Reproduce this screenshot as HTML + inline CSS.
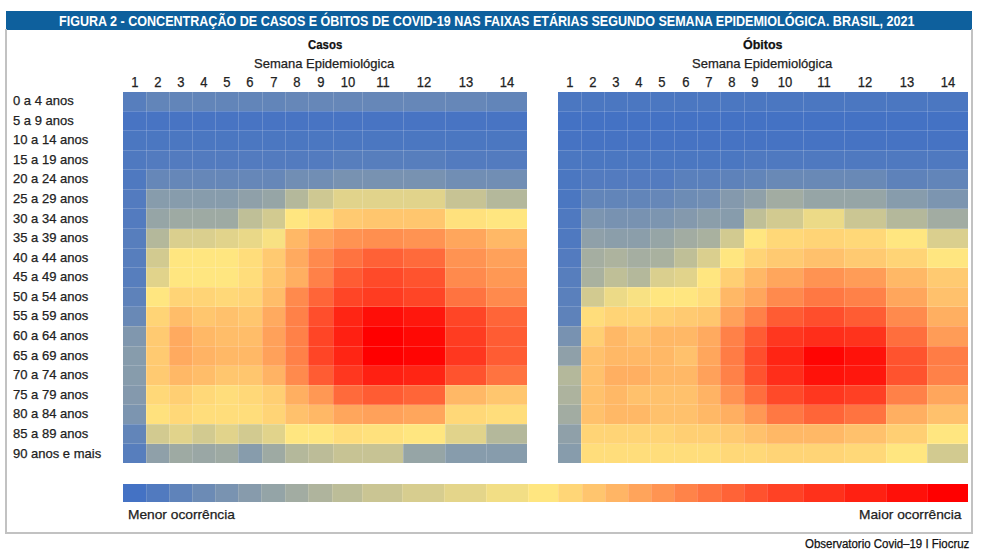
<!DOCTYPE html>
<html><head><meta charset="utf-8"><style>
html,body{margin:0;padding:0;background:#fff;}
body{width:984px;height:558px;position:relative;overflow:hidden;font-family:"Liberation Sans",sans-serif;}
#bar{position:absolute;left:6px;top:11px;width:966px;height:18.5px;background:#0e609d;}
#title{position:absolute;left:59px;top:12px;transform:scaleX(0.896);height:18px;line-height:18px;color:#fff;font-weight:bold;font-size:14px;white-space:nowrap;transform-origin:0 50%;}
#frame{position:absolute;left:5px;top:29px;width:964px;height:503px;border:2px solid #c2c2c2;border-top:none;}
.c{position:absolute;}
.num,.rl,.psub,.lt,#foot,.ptitle{-webkit-text-stroke:0.25px currentColor;}
.gv{position:absolute;width:1px;background:rgba(255,255,255,0.18);}
.gh{position:absolute;height:1px;background:rgba(255,255,255,0.18);}
.num{position:absolute;top:74.3px;width:40px;text-align:center;font-size:14px;color:#222;transform:scaleX(0.93);}
.rl{position:absolute;left:13px;height:19.58px;line-height:19.58px;font-size:13px;color:#222;white-space:nowrap;}
.ptitle{position:absolute;font-weight:bold;font-size:13px;color:#111;white-space:nowrap;}
.psub{position:absolute;font-size:13px;color:#222;white-space:nowrap;}
.lc{position:absolute;top:484px;height:18px;}
.lg{position:absolute;top:484px;height:18px;width:1px;background:rgba(255,255,255,0.15);}
.lt{position:absolute;top:507.3px;font-size:13px;transform:scaleX(1.057);transform-origin:0 0;color:#222;white-space:nowrap;}
#foot{position:absolute;top:536.6px;left:805px;font-size:12px;color:#111;transform:scaleX(0.955);transform-origin:0 0;white-space:nowrap;}
</style></head><body>
<div id="bar"></div>
<div id="title">FIGURA 2 - CONCENTRAÇÃO DE CASOS E ÓBITOS DE COVID-19 NAS FAIXAS ETÁRIAS SEGUNDO SEMANA EPIDEMIOLÓGICA. BRASIL, 2021</div>
<div id="frame"></div>
<div class="ptitle" style="left:308px;top:36.5px;transform:scaleX(0.877);transform-origin:0 0">Casos</div>
<div class="psub" style="left:254px;top:56px">Semana Epidemiológica</div>
<div class="ptitle" style="left:743px;top:36.5px;transform:scaleX(0.96);transform-origin:0 0">Óbitos</div>
<div class="psub" style="left:692px;top:56px">Semana Epidemiológica</div>
<div class="rl" style="top:91.10px">0 a 4 anos</div>
<div class="rl" style="top:110.68px">5 a 9 anos</div>
<div class="rl" style="top:130.26px">10 a 14 anos</div>
<div class="rl" style="top:149.84px">15 a 19 anos</div>
<div class="rl" style="top:169.42px">20 a 24 anos</div>
<div class="rl" style="top:188.99px">25 a 29 anos</div>
<div class="rl" style="top:208.57px">30 a 34 anos</div>
<div class="rl" style="top:228.15px">35 a 39 anos</div>
<div class="rl" style="top:247.73px">40 a 44 anos</div>
<div class="rl" style="top:267.31px">45 a 49 anos</div>
<div class="rl" style="top:286.89px">50 a 54 anos</div>
<div class="rl" style="top:306.47px">55 a 59 anos</div>
<div class="rl" style="top:326.05px">60 a 64 anos</div>
<div class="rl" style="top:345.63px">65 a 69 anos</div>
<div class="rl" style="top:365.21px">70 a 74 anos</div>
<div class="rl" style="top:384.78px">75 a 79 anos</div>
<div class="rl" style="top:404.36px">80 a 84 anos</div>
<div class="rl" style="top:423.94px">85 a 89 anos</div>
<div class="rl" style="top:443.52px">90 anos e mais</div>
<div class="c" style="left:123px;top:91.50px;width:23px;height:19.58px;background:#577ebd"></div>
<div class="c" style="left:146px;top:91.50px;width:23px;height:19.58px;background:#6285b9"></div>
<div class="c" style="left:169px;top:91.50px;width:23px;height:19.58px;background:#6285b9"></div>
<div class="c" style="left:192px;top:91.50px;width:23px;height:19.58px;background:#6285b9"></div>
<div class="c" style="left:215px;top:91.50px;width:23px;height:19.58px;background:#6285b9"></div>
<div class="c" style="left:238px;top:91.50px;width:24px;height:19.58px;background:#6285b9"></div>
<div class="c" style="left:262px;top:91.50px;width:23px;height:19.58px;background:#6285b9"></div>
<div class="c" style="left:285px;top:91.50px;width:23px;height:19.58px;background:#6687b8"></div>
<div class="c" style="left:308px;top:91.50px;width:25px;height:19.58px;background:#6687b8"></div>
<div class="c" style="left:333px;top:91.50px;width:29px;height:19.58px;background:#6687b8"></div>
<div class="c" style="left:362px;top:91.50px;width:41px;height:19.58px;background:#6687b8"></div>
<div class="c" style="left:403px;top:91.50px;width:42px;height:19.58px;background:#6687b8"></div>
<div class="c" style="left:445px;top:91.50px;width:41px;height:19.58px;background:#6687b8"></div>
<div class="c" style="left:486px;top:91.50px;width:41px;height:19.58px;background:#6285b9"></div>
<div class="c" style="left:123px;top:111.08px;width:23px;height:19.58px;background:#4874c3"></div>
<div class="c" style="left:146px;top:111.08px;width:23px;height:19.58px;background:#4874c3"></div>
<div class="c" style="left:169px;top:111.08px;width:23px;height:19.58px;background:#4874c3"></div>
<div class="c" style="left:192px;top:111.08px;width:23px;height:19.58px;background:#4874c3"></div>
<div class="c" style="left:215px;top:111.08px;width:23px;height:19.58px;background:#4874c3"></div>
<div class="c" style="left:238px;top:111.08px;width:24px;height:19.58px;background:#4874c3"></div>
<div class="c" style="left:262px;top:111.08px;width:23px;height:19.58px;background:#4874c3"></div>
<div class="c" style="left:285px;top:111.08px;width:23px;height:19.58px;background:#4874c3"></div>
<div class="c" style="left:308px;top:111.08px;width:25px;height:19.58px;background:#4874c3"></div>
<div class="c" style="left:333px;top:111.08px;width:29px;height:19.58px;background:#4874c3"></div>
<div class="c" style="left:362px;top:111.08px;width:41px;height:19.58px;background:#4874c3"></div>
<div class="c" style="left:403px;top:111.08px;width:42px;height:19.58px;background:#4874c3"></div>
<div class="c" style="left:445px;top:111.08px;width:41px;height:19.58px;background:#4874c3"></div>
<div class="c" style="left:486px;top:111.08px;width:41px;height:19.58px;background:#4874c3"></div>
<div class="c" style="left:123px;top:130.66px;width:23px;height:19.58px;background:#4b77c1"></div>
<div class="c" style="left:146px;top:130.66px;width:23px;height:19.58px;background:#4b77c1"></div>
<div class="c" style="left:169px;top:130.66px;width:23px;height:19.58px;background:#4b77c1"></div>
<div class="c" style="left:192px;top:130.66px;width:23px;height:19.58px;background:#4b77c1"></div>
<div class="c" style="left:215px;top:130.66px;width:23px;height:19.58px;background:#4b77c1"></div>
<div class="c" style="left:238px;top:130.66px;width:24px;height:19.58px;background:#4b77c1"></div>
<div class="c" style="left:262px;top:130.66px;width:23px;height:19.58px;background:#4b77c1"></div>
<div class="c" style="left:285px;top:130.66px;width:23px;height:19.58px;background:#4b77c1"></div>
<div class="c" style="left:308px;top:130.66px;width:25px;height:19.58px;background:#4b77c1"></div>
<div class="c" style="left:333px;top:130.66px;width:29px;height:19.58px;background:#4b77c1"></div>
<div class="c" style="left:362px;top:130.66px;width:41px;height:19.58px;background:#4b77c1"></div>
<div class="c" style="left:403px;top:130.66px;width:42px;height:19.58px;background:#4b77c1"></div>
<div class="c" style="left:445px;top:130.66px;width:41px;height:19.58px;background:#4b77c1"></div>
<div class="c" style="left:486px;top:130.66px;width:41px;height:19.58px;background:#4b77c1"></div>
<div class="c" style="left:123px;top:150.24px;width:23px;height:19.58px;background:#4f79c0"></div>
<div class="c" style="left:146px;top:150.24px;width:23px;height:19.58px;background:#537bbf"></div>
<div class="c" style="left:169px;top:150.24px;width:23px;height:19.58px;background:#537bbf"></div>
<div class="c" style="left:192px;top:150.24px;width:23px;height:19.58px;background:#537bbf"></div>
<div class="c" style="left:215px;top:150.24px;width:23px;height:19.58px;background:#537bbf"></div>
<div class="c" style="left:238px;top:150.24px;width:24px;height:19.58px;background:#537bbf"></div>
<div class="c" style="left:262px;top:150.24px;width:23px;height:19.58px;background:#537bbf"></div>
<div class="c" style="left:285px;top:150.24px;width:23px;height:19.58px;background:#537bbf"></div>
<div class="c" style="left:308px;top:150.24px;width:25px;height:19.58px;background:#537bbf"></div>
<div class="c" style="left:333px;top:150.24px;width:29px;height:19.58px;background:#577ebd"></div>
<div class="c" style="left:362px;top:150.24px;width:41px;height:19.58px;background:#577ebd"></div>
<div class="c" style="left:403px;top:150.24px;width:42px;height:19.58px;background:#577ebd"></div>
<div class="c" style="left:445px;top:150.24px;width:41px;height:19.58px;background:#537bbf"></div>
<div class="c" style="left:486px;top:150.24px;width:41px;height:19.58px;background:#537bbf"></div>
<div class="c" style="left:123px;top:169.82px;width:23px;height:19.58px;background:#4f79c0"></div>
<div class="c" style="left:146px;top:169.82px;width:23px;height:19.58px;background:#6687b8"></div>
<div class="c" style="left:169px;top:169.82px;width:23px;height:19.58px;background:#6687b8"></div>
<div class="c" style="left:192px;top:169.82px;width:23px;height:19.58px;background:#6687b8"></div>
<div class="c" style="left:215px;top:169.82px;width:23px;height:19.58px;background:#6687b8"></div>
<div class="c" style="left:238px;top:169.82px;width:24px;height:19.58px;background:#6687b8"></div>
<div class="c" style="left:262px;top:169.82px;width:23px;height:19.58px;background:#6687b8"></div>
<div class="c" style="left:285px;top:169.82px;width:23px;height:19.58px;background:#718eb4"></div>
<div class="c" style="left:308px;top:169.82px;width:25px;height:19.58px;background:#718eb4"></div>
<div class="c" style="left:333px;top:169.82px;width:29px;height:19.58px;background:#7892b1"></div>
<div class="c" style="left:362px;top:169.82px;width:41px;height:19.58px;background:#7892b1"></div>
<div class="c" style="left:403px;top:169.82px;width:42px;height:19.58px;background:#7892b1"></div>
<div class="c" style="left:445px;top:169.82px;width:41px;height:19.58px;background:#718eb4"></div>
<div class="c" style="left:486px;top:169.82px;width:41px;height:19.58px;background:#718eb4"></div>
<div class="c" style="left:123px;top:189.39px;width:23px;height:19.58px;background:#537bbf"></div>
<div class="c" style="left:146px;top:189.39px;width:23px;height:19.58px;background:#879cac"></div>
<div class="c" style="left:169px;top:189.39px;width:23px;height:19.58px;background:#879cac"></div>
<div class="c" style="left:192px;top:189.39px;width:23px;height:19.58px;background:#879cac"></div>
<div class="c" style="left:215px;top:189.39px;width:23px;height:19.58px;background:#879cac"></div>
<div class="c" style="left:238px;top:189.39px;width:24px;height:19.58px;background:#8fa0a9"></div>
<div class="c" style="left:262px;top:189.39px;width:23px;height:19.58px;background:#96a5a6"></div>
<div class="c" style="left:285px;top:189.39px;width:23px;height:19.58px;background:#b4b89b"></div>
<div class="c" style="left:308px;top:189.39px;width:25px;height:19.58px;background:#cec892"></div>
<div class="c" style="left:333px;top:189.39px;width:29px;height:19.58px;background:#e1d38b"></div>
<div class="c" style="left:362px;top:189.39px;width:41px;height:19.58px;background:#e1d38b"></div>
<div class="c" style="left:403px;top:189.39px;width:42px;height:19.58px;background:#e1d38b"></div>
<div class="c" style="left:445px;top:189.39px;width:41px;height:19.58px;background:#c7c394"></div>
<div class="c" style="left:486px;top:189.39px;width:41px;height:19.58px;background:#b4b89b"></div>
<div class="c" style="left:123px;top:208.97px;width:23px;height:19.58px;background:#537bbf"></div>
<div class="c" style="left:146px;top:208.97px;width:23px;height:19.58px;background:#96a5a6"></div>
<div class="c" style="left:169px;top:208.97px;width:23px;height:19.58px;background:#9eaaa3"></div>
<div class="c" style="left:192px;top:208.97px;width:23px;height:19.58px;background:#9eaaa3"></div>
<div class="c" style="left:215px;top:208.97px;width:23px;height:19.58px;background:#9eaaa3"></div>
<div class="c" style="left:238px;top:208.97px;width:24px;height:19.58px;background:#bfbf97"></div>
<div class="c" style="left:262px;top:208.97px;width:23px;height:19.58px;background:#d2ca90"></div>
<div class="c" style="left:285px;top:208.97px;width:23px;height:19.58px;background:#ffe680"></div>
<div class="c" style="left:308px;top:208.97px;width:25px;height:19.58px;background:#ffdd7b"></div>
<div class="c" style="left:333px;top:208.97px;width:29px;height:19.58px;background:#ffca71"></div>
<div class="c" style="left:362px;top:208.97px;width:41px;height:19.58px;background:#ffc66e"></div>
<div class="c" style="left:403px;top:208.97px;width:42px;height:19.58px;background:#ffc66e"></div>
<div class="c" style="left:445px;top:208.97px;width:41px;height:19.58px;background:#ffe17d"></div>
<div class="c" style="left:486px;top:208.97px;width:41px;height:19.58px;background:#ffe680"></div>
<div class="c" style="left:123px;top:228.55px;width:23px;height:19.58px;background:#577ebd"></div>
<div class="c" style="left:146px;top:228.55px;width:23px;height:19.58px;background:#b4b89b"></div>
<div class="c" style="left:169px;top:228.55px;width:23px;height:19.58px;background:#dacf8e"></div>
<div class="c" style="left:192px;top:228.55px;width:23px;height:19.58px;background:#dacf8e"></div>
<div class="c" style="left:215px;top:228.55px;width:23px;height:19.58px;background:#e1d38b"></div>
<div class="c" style="left:238px;top:228.55px;width:24px;height:19.58px;background:#e9d888"></div>
<div class="c" style="left:262px;top:228.55px;width:23px;height:19.58px;background:#f8e183"></div>
<div class="c" style="left:285px;top:228.55px;width:23px;height:19.58px;background:#ffb866"></div>
<div class="c" style="left:308px;top:228.55px;width:25px;height:19.58px;background:#ffa15a"></div>
<div class="c" style="left:333px;top:228.55px;width:29px;height:19.58px;background:#ff9352"></div>
<div class="c" style="left:362px;top:228.55px;width:41px;height:19.58px;background:#ff8f4f"></div>
<div class="c" style="left:403px;top:228.55px;width:42px;height:19.58px;background:#ff9352"></div>
<div class="c" style="left:445px;top:228.55px;width:41px;height:19.58px;background:#ffa65c"></div>
<div class="c" style="left:486px;top:228.55px;width:41px;height:19.58px;background:#ffb866"></div>
<div class="c" style="left:123px;top:248.13px;width:23px;height:19.58px;background:#577ebd"></div>
<div class="c" style="left:146px;top:248.13px;width:23px;height:19.58px;background:#d2ca90"></div>
<div class="c" style="left:169px;top:248.13px;width:23px;height:19.58px;background:#ffe680"></div>
<div class="c" style="left:192px;top:248.13px;width:23px;height:19.58px;background:#ffe680"></div>
<div class="c" style="left:215px;top:248.13px;width:23px;height:19.58px;background:#ffe680"></div>
<div class="c" style="left:238px;top:248.13px;width:24px;height:19.58px;background:#ffdd7b"></div>
<div class="c" style="left:262px;top:248.13px;width:23px;height:19.58px;background:#ffca71"></div>
<div class="c" style="left:285px;top:248.13px;width:23px;height:19.58px;background:#ffaa5f"></div>
<div class="c" style="left:308px;top:248.13px;width:25px;height:19.58px;background:#ff8a4d"></div>
<div class="c" style="left:333px;top:248.13px;width:29px;height:19.58px;background:#ff7340"></div>
<div class="c" style="left:362px;top:248.13px;width:41px;height:19.58px;background:#ff6136"></div>
<div class="c" style="left:403px;top:248.13px;width:42px;height:19.58px;background:#ff6a3b"></div>
<div class="c" style="left:445px;top:248.13px;width:41px;height:19.58px;background:#ff9352"></div>
<div class="c" style="left:486px;top:248.13px;width:41px;height:19.58px;background:#ffa15a"></div>
<div class="c" style="left:123px;top:267.71px;width:23px;height:19.58px;background:#577ebd"></div>
<div class="c" style="left:146px;top:267.71px;width:23px;height:19.58px;background:#e1d38b"></div>
<div class="c" style="left:169px;top:267.71px;width:23px;height:19.58px;background:#ffe680"></div>
<div class="c" style="left:192px;top:267.71px;width:23px;height:19.58px;background:#ffe680"></div>
<div class="c" style="left:215px;top:267.71px;width:23px;height:19.58px;background:#ffe680"></div>
<div class="c" style="left:238px;top:267.71px;width:24px;height:19.58px;background:#ffdd7b"></div>
<div class="c" style="left:262px;top:267.71px;width:23px;height:19.58px;background:#ffc66e"></div>
<div class="c" style="left:285px;top:267.71px;width:23px;height:19.58px;background:#ffaf61"></div>
<div class="c" style="left:308px;top:267.71px;width:25px;height:19.58px;background:#ff8148"></div>
<div class="c" style="left:333px;top:267.71px;width:29px;height:19.58px;background:#ff5c33"></div>
<div class="c" style="left:362px;top:267.71px;width:41px;height:19.58px;background:#ff4a29"></div>
<div class="c" style="left:403px;top:267.71px;width:42px;height:19.58px;background:#ff532e"></div>
<div class="c" style="left:445px;top:267.71px;width:41px;height:19.58px;background:#ff8a4d"></div>
<div class="c" style="left:486px;top:267.71px;width:41px;height:19.58px;background:#ff9854"></div>
<div class="c" style="left:123px;top:287.29px;width:23px;height:19.58px;background:#5e82ba"></div>
<div class="c" style="left:146px;top:287.29px;width:23px;height:19.58px;background:#ffe680"></div>
<div class="c" style="left:169px;top:287.29px;width:23px;height:19.58px;background:#ffd476"></div>
<div class="c" style="left:192px;top:287.29px;width:23px;height:19.58px;background:#ffd476"></div>
<div class="c" style="left:215px;top:287.29px;width:23px;height:19.58px;background:#ffd878"></div>
<div class="c" style="left:238px;top:287.29px;width:24px;height:19.58px;background:#ffd476"></div>
<div class="c" style="left:262px;top:287.29px;width:23px;height:19.58px;background:#ffbd69"></div>
<div class="c" style="left:285px;top:287.29px;width:23px;height:19.58px;background:#ff8a4d"></div>
<div class="c" style="left:308px;top:287.29px;width:25px;height:19.58px;background:#ff6538"></div>
<div class="c" style="left:333px;top:287.29px;width:29px;height:19.58px;background:#ff4526"></div>
<div class="c" style="left:362px;top:287.29px;width:41px;height:19.58px;background:#ff3c21"></div>
<div class="c" style="left:403px;top:287.29px;width:42px;height:19.58px;background:#ff4526"></div>
<div class="c" style="left:445px;top:287.29px;width:41px;height:19.58px;background:#ff7340"></div>
<div class="c" style="left:486px;top:287.29px;width:41px;height:19.58px;background:#ff8a4d"></div>
<div class="c" style="left:123px;top:306.87px;width:23px;height:19.58px;background:#6989b6"></div>
<div class="c" style="left:146px;top:306.87px;width:23px;height:19.58px;background:#ffd476"></div>
<div class="c" style="left:169px;top:306.87px;width:23px;height:19.58px;background:#ffbd69"></div>
<div class="c" style="left:192px;top:306.87px;width:23px;height:19.58px;background:#ffc66e"></div>
<div class="c" style="left:215px;top:306.87px;width:23px;height:19.58px;background:#ffc16c"></div>
<div class="c" style="left:238px;top:306.87px;width:24px;height:19.58px;background:#ffc66e"></div>
<div class="c" style="left:262px;top:306.87px;width:23px;height:19.58px;background:#ffaa5f"></div>
<div class="c" style="left:285px;top:306.87px;width:23px;height:19.58px;background:#ff8148"></div>
<div class="c" style="left:308px;top:306.87px;width:25px;height:19.58px;background:#ff4e2c"></div>
<div class="c" style="left:333px;top:306.87px;width:29px;height:19.58px;background:#ff2514"></div>
<div class="c" style="left:362px;top:306.87px;width:41px;height:19.58px;background:#ff0e08"></div>
<div class="c" style="left:403px;top:306.87px;width:42px;height:19.58px;background:#ff170d"></div>
<div class="c" style="left:445px;top:306.87px;width:41px;height:19.58px;background:#ff4526"></div>
<div class="c" style="left:486px;top:306.87px;width:41px;height:19.58px;background:#ff6538"></div>
<div class="c" style="left:123px;top:326.45px;width:23px;height:19.58px;background:#8097ae"></div>
<div class="c" style="left:146px;top:326.45px;width:23px;height:19.58px;background:#ffca71"></div>
<div class="c" style="left:169px;top:326.45px;width:23px;height:19.58px;background:#ffaa5f"></div>
<div class="c" style="left:192px;top:326.45px;width:23px;height:19.58px;background:#ffb866"></div>
<div class="c" style="left:215px;top:326.45px;width:23px;height:19.58px;background:#ffbd69"></div>
<div class="c" style="left:238px;top:326.45px;width:24px;height:19.58px;background:#ffbd69"></div>
<div class="c" style="left:262px;top:326.45px;width:23px;height:19.58px;background:#ffa15a"></div>
<div class="c" style="left:285px;top:326.45px;width:23px;height:19.58px;background:#ff8148"></div>
<div class="c" style="left:308px;top:326.45px;width:25px;height:19.58px;background:#ff4526"></div>
<div class="c" style="left:333px;top:326.45px;width:29px;height:19.58px;background:#ff2012"></div>
<div class="c" style="left:362px;top:326.45px;width:41px;height:19.58px;background:#ff0000"></div>
<div class="c" style="left:403px;top:326.45px;width:42px;height:19.58px;background:#ff0905"></div>
<div class="c" style="left:445px;top:326.45px;width:41px;height:19.58px;background:#ff3c21"></div>
<div class="c" style="left:486px;top:326.45px;width:41px;height:19.58px;background:#ff5c33"></div>
<div class="c" style="left:123px;top:346.03px;width:23px;height:19.58px;background:#879cac"></div>
<div class="c" style="left:146px;top:346.03px;width:23px;height:19.58px;background:#ffca71"></div>
<div class="c" style="left:169px;top:346.03px;width:23px;height:19.58px;background:#ffaa5f"></div>
<div class="c" style="left:192px;top:346.03px;width:23px;height:19.58px;background:#ffb364"></div>
<div class="c" style="left:215px;top:346.03px;width:23px;height:19.58px;background:#ffb866"></div>
<div class="c" style="left:238px;top:346.03px;width:24px;height:19.58px;background:#ffb866"></div>
<div class="c" style="left:262px;top:346.03px;width:23px;height:19.58px;background:#ffa15a"></div>
<div class="c" style="left:285px;top:346.03px;width:23px;height:19.58px;background:#ff8148"></div>
<div class="c" style="left:308px;top:346.03px;width:25px;height:19.58px;background:#ff4526"></div>
<div class="c" style="left:333px;top:346.03px;width:29px;height:19.58px;background:#ff2514"></div>
<div class="c" style="left:362px;top:346.03px;width:41px;height:19.58px;background:#ff0000"></div>
<div class="c" style="left:403px;top:346.03px;width:42px;height:19.58px;background:#ff0503"></div>
<div class="c" style="left:445px;top:346.03px;width:41px;height:19.58px;background:#ff371f"></div>
<div class="c" style="left:486px;top:346.03px;width:41px;height:19.58px;background:#ff5c33"></div>
<div class="c" style="left:123px;top:365.61px;width:23px;height:19.58px;background:#879cac"></div>
<div class="c" style="left:146px;top:365.61px;width:23px;height:19.58px;background:#ffca71"></div>
<div class="c" style="left:169px;top:365.61px;width:23px;height:19.58px;background:#ffb866"></div>
<div class="c" style="left:192px;top:365.61px;width:23px;height:19.58px;background:#ffbd69"></div>
<div class="c" style="left:215px;top:365.61px;width:23px;height:19.58px;background:#ffc66e"></div>
<div class="c" style="left:238px;top:365.61px;width:24px;height:19.58px;background:#ffc66e"></div>
<div class="c" style="left:262px;top:365.61px;width:23px;height:19.58px;background:#ffb364"></div>
<div class="c" style="left:285px;top:365.61px;width:23px;height:19.58px;background:#ff8a4d"></div>
<div class="c" style="left:308px;top:365.61px;width:25px;height:19.58px;background:#ff5c33"></div>
<div class="c" style="left:333px;top:365.61px;width:29px;height:19.58px;background:#ff371f"></div>
<div class="c" style="left:362px;top:365.61px;width:41px;height:19.58px;background:#ff2012"></div>
<div class="c" style="left:403px;top:365.61px;width:42px;height:19.58px;background:#ff2514"></div>
<div class="c" style="left:445px;top:365.61px;width:41px;height:19.58px;background:#ff532e"></div>
<div class="c" style="left:486px;top:365.61px;width:41px;height:19.58px;background:#ff7340"></div>
<div class="c" style="left:123px;top:385.18px;width:23px;height:19.58px;background:#8499ad"></div>
<div class="c" style="left:146px;top:385.18px;width:23px;height:19.58px;background:#ffd878"></div>
<div class="c" style="left:169px;top:385.18px;width:23px;height:19.58px;background:#ffcf73"></div>
<div class="c" style="left:192px;top:385.18px;width:23px;height:19.58px;background:#ffd878"></div>
<div class="c" style="left:215px;top:385.18px;width:23px;height:19.58px;background:#ffdd7b"></div>
<div class="c" style="left:238px;top:385.18px;width:24px;height:19.58px;background:#ffd878"></div>
<div class="c" style="left:262px;top:385.18px;width:23px;height:19.58px;background:#ffcf73"></div>
<div class="c" style="left:285px;top:385.18px;width:23px;height:19.58px;background:#ffaf61"></div>
<div class="c" style="left:308px;top:385.18px;width:25px;height:19.58px;background:#ff9854"></div>
<div class="c" style="left:333px;top:385.18px;width:29px;height:19.58px;background:#ff6a3b"></div>
<div class="c" style="left:362px;top:385.18px;width:41px;height:19.58px;background:#ff5c33"></div>
<div class="c" style="left:403px;top:385.18px;width:42px;height:19.58px;background:#ff6538"></div>
<div class="c" style="left:445px;top:385.18px;width:41px;height:19.58px;background:#ffb866"></div>
<div class="c" style="left:486px;top:385.18px;width:41px;height:19.58px;background:#ffc66e"></div>
<div class="c" style="left:123px;top:404.76px;width:23px;height:19.58px;background:#7c95b0"></div>
<div class="c" style="left:146px;top:404.76px;width:23px;height:19.58px;background:#ffe17d"></div>
<div class="c" style="left:169px;top:404.76px;width:23px;height:19.58px;background:#ffd878"></div>
<div class="c" style="left:192px;top:404.76px;width:23px;height:19.58px;background:#ffdd7b"></div>
<div class="c" style="left:215px;top:404.76px;width:23px;height:19.58px;background:#ffdd7b"></div>
<div class="c" style="left:238px;top:404.76px;width:24px;height:19.58px;background:#ffdd7b"></div>
<div class="c" style="left:262px;top:404.76px;width:23px;height:19.58px;background:#ffd476"></div>
<div class="c" style="left:285px;top:404.76px;width:23px;height:19.58px;background:#ffc16c"></div>
<div class="c" style="left:308px;top:404.76px;width:25px;height:19.58px;background:#ffb866"></div>
<div class="c" style="left:333px;top:404.76px;width:29px;height:19.58px;background:#ffa65c"></div>
<div class="c" style="left:362px;top:404.76px;width:41px;height:19.58px;background:#ffa15a"></div>
<div class="c" style="left:403px;top:404.76px;width:42px;height:19.58px;background:#ffa65c"></div>
<div class="c" style="left:445px;top:404.76px;width:41px;height:19.58px;background:#ffd878"></div>
<div class="c" style="left:486px;top:404.76px;width:41px;height:19.58px;background:#ffdd7b"></div>
<div class="c" style="left:123px;top:424.34px;width:23px;height:19.58px;background:#6285b9"></div>
<div class="c" style="left:146px;top:424.34px;width:23px;height:19.58px;background:#d2ca90"></div>
<div class="c" style="left:169px;top:424.34px;width:23px;height:19.58px;background:#e1d38b"></div>
<div class="c" style="left:192px;top:424.34px;width:23px;height:19.58px;background:#d2ca90"></div>
<div class="c" style="left:215px;top:424.34px;width:23px;height:19.58px;background:#e1d38b"></div>
<div class="c" style="left:238px;top:424.34px;width:24px;height:19.58px;background:#d2ca90"></div>
<div class="c" style="left:262px;top:424.34px;width:23px;height:19.58px;background:#e1d38b"></div>
<div class="c" style="left:285px;top:424.34px;width:23px;height:19.58px;background:#ffe680"></div>
<div class="c" style="left:308px;top:424.34px;width:25px;height:19.58px;background:#ffe680"></div>
<div class="c" style="left:333px;top:424.34px;width:29px;height:19.58px;background:#ffdd7b"></div>
<div class="c" style="left:362px;top:424.34px;width:41px;height:19.58px;background:#ffe17d"></div>
<div class="c" style="left:403px;top:424.34px;width:42px;height:19.58px;background:#ffe680"></div>
<div class="c" style="left:445px;top:424.34px;width:41px;height:19.58px;background:#e1d38b"></div>
<div class="c" style="left:486px;top:424.34px;width:41px;height:19.58px;background:#b4b89b"></div>
<div class="c" style="left:123px;top:443.92px;width:23px;height:19.58px;background:#577ebd"></div>
<div class="c" style="left:146px;top:443.92px;width:23px;height:19.58px;background:#8fa0a9"></div>
<div class="c" style="left:169px;top:443.92px;width:23px;height:19.58px;background:#9eaaa3"></div>
<div class="c" style="left:192px;top:443.92px;width:23px;height:19.58px;background:#9aa7a5"></div>
<div class="c" style="left:215px;top:443.92px;width:23px;height:19.58px;background:#9eaaa3"></div>
<div class="c" style="left:238px;top:443.92px;width:24px;height:19.58px;background:#879cac"></div>
<div class="c" style="left:262px;top:443.92px;width:23px;height:19.58px;background:#9eaaa3"></div>
<div class="c" style="left:285px;top:443.92px;width:23px;height:19.58px;background:#b4b89b"></div>
<div class="c" style="left:308px;top:443.92px;width:25px;height:19.58px;background:#bcbc98"></div>
<div class="c" style="left:333px;top:443.92px;width:29px;height:19.58px;background:#c7c394"></div>
<div class="c" style="left:362px;top:443.92px;width:41px;height:19.58px;background:#c7c394"></div>
<div class="c" style="left:403px;top:443.92px;width:42px;height:19.58px;background:#96a5a6"></div>
<div class="c" style="left:445px;top:443.92px;width:41px;height:19.58px;background:#879cac"></div>
<div class="c" style="left:486px;top:443.92px;width:41px;height:19.58px;background:#879cac"></div>
<div class="gv" style="left:145.5px;top:91.5px;height:372.0px"></div>
<div class="gv" style="left:168.5px;top:91.5px;height:372.0px"></div>
<div class="gv" style="left:191.5px;top:91.5px;height:372.0px"></div>
<div class="gv" style="left:214.5px;top:91.5px;height:372.0px"></div>
<div class="gv" style="left:237.5px;top:91.5px;height:372.0px"></div>
<div class="gv" style="left:261.5px;top:91.5px;height:372.0px"></div>
<div class="gv" style="left:284.5px;top:91.5px;height:372.0px"></div>
<div class="gv" style="left:307.5px;top:91.5px;height:372.0px"></div>
<div class="gv" style="left:332.5px;top:91.5px;height:372.0px"></div>
<div class="gv" style="left:361.5px;top:91.5px;height:372.0px"></div>
<div class="gv" style="left:402.5px;top:91.5px;height:372.0px"></div>
<div class="gv" style="left:444.5px;top:91.5px;height:372.0px"></div>
<div class="gv" style="left:485.5px;top:91.5px;height:372.0px"></div>
<div class="gh" style="left:123px;top:110.58px;width:404px"></div>
<div class="gh" style="left:123px;top:130.16px;width:404px"></div>
<div class="gh" style="left:123px;top:149.74px;width:404px"></div>
<div class="gh" style="left:123px;top:169.32px;width:404px"></div>
<div class="gh" style="left:123px;top:188.89px;width:404px"></div>
<div class="gh" style="left:123px;top:208.47px;width:404px"></div>
<div class="gh" style="left:123px;top:228.05px;width:404px"></div>
<div class="gh" style="left:123px;top:247.63px;width:404px"></div>
<div class="gh" style="left:123px;top:267.21px;width:404px"></div>
<div class="gh" style="left:123px;top:286.79px;width:404px"></div>
<div class="gh" style="left:123px;top:306.37px;width:404px"></div>
<div class="gh" style="left:123px;top:325.95px;width:404px"></div>
<div class="gh" style="left:123px;top:345.53px;width:404px"></div>
<div class="gh" style="left:123px;top:365.11px;width:404px"></div>
<div class="gh" style="left:123px;top:384.68px;width:404px"></div>
<div class="gh" style="left:123px;top:404.26px;width:404px"></div>
<div class="gh" style="left:123px;top:423.84px;width:404px"></div>
<div class="gh" style="left:123px;top:443.42px;width:404px"></div>
<div class="num" style="left:114.5px">1</div>
<div class="num" style="left:137.5px">2</div>
<div class="num" style="left:160.5px">3</div>
<div class="num" style="left:183.5px">4</div>
<div class="num" style="left:206.5px">5</div>
<div class="num" style="left:230.0px">6</div>
<div class="num" style="left:253.5px">7</div>
<div class="num" style="left:276.5px">8</div>
<div class="num" style="left:300.5px">9</div>
<div class="num" style="left:327.5px">10</div>
<div class="num" style="left:362.5px">11</div>
<div class="num" style="left:404.0px">12</div>
<div class="num" style="left:445.5px">13</div>
<div class="num" style="left:486.5px">14</div>
<div class="c" style="left:558px;top:91.50px;width:23px;height:19.58px;background:#4b77c1"></div>
<div class="c" style="left:581px;top:91.50px;width:23px;height:19.58px;background:#4b77c1"></div>
<div class="c" style="left:604px;top:91.50px;width:23px;height:19.58px;background:#4b77c1"></div>
<div class="c" style="left:627px;top:91.50px;width:23px;height:19.58px;background:#4b77c1"></div>
<div class="c" style="left:650px;top:91.50px;width:24px;height:19.58px;background:#4b77c1"></div>
<div class="c" style="left:674px;top:91.50px;width:23px;height:19.58px;background:#4b77c1"></div>
<div class="c" style="left:697px;top:91.50px;width:23px;height:19.58px;background:#4b77c1"></div>
<div class="c" style="left:720px;top:91.50px;width:24px;height:19.58px;background:#4b77c1"></div>
<div class="c" style="left:744px;top:91.50px;width:22px;height:19.58px;background:#4b77c1"></div>
<div class="c" style="left:766px;top:91.50px;width:37px;height:19.58px;background:#4b77c1"></div>
<div class="c" style="left:803px;top:91.50px;width:41px;height:19.58px;background:#4b77c1"></div>
<div class="c" style="left:844px;top:91.50px;width:42px;height:19.58px;background:#4b77c1"></div>
<div class="c" style="left:886px;top:91.50px;width:41px;height:19.58px;background:#4b77c1"></div>
<div class="c" style="left:927px;top:91.50px;width:41px;height:19.58px;background:#4b77c1"></div>
<div class="c" style="left:558px;top:111.08px;width:23px;height:19.58px;background:#4472c4"></div>
<div class="c" style="left:581px;top:111.08px;width:23px;height:19.58px;background:#4472c4"></div>
<div class="c" style="left:604px;top:111.08px;width:23px;height:19.58px;background:#4472c4"></div>
<div class="c" style="left:627px;top:111.08px;width:23px;height:19.58px;background:#4472c4"></div>
<div class="c" style="left:650px;top:111.08px;width:24px;height:19.58px;background:#4472c4"></div>
<div class="c" style="left:674px;top:111.08px;width:23px;height:19.58px;background:#4472c4"></div>
<div class="c" style="left:697px;top:111.08px;width:23px;height:19.58px;background:#4472c4"></div>
<div class="c" style="left:720px;top:111.08px;width:24px;height:19.58px;background:#4472c4"></div>
<div class="c" style="left:744px;top:111.08px;width:22px;height:19.58px;background:#4472c4"></div>
<div class="c" style="left:766px;top:111.08px;width:37px;height:19.58px;background:#4472c4"></div>
<div class="c" style="left:803px;top:111.08px;width:41px;height:19.58px;background:#4472c4"></div>
<div class="c" style="left:844px;top:111.08px;width:42px;height:19.58px;background:#4472c4"></div>
<div class="c" style="left:886px;top:111.08px;width:41px;height:19.58px;background:#4472c4"></div>
<div class="c" style="left:927px;top:111.08px;width:41px;height:19.58px;background:#4472c4"></div>
<div class="c" style="left:558px;top:130.66px;width:23px;height:19.58px;background:#4673c3"></div>
<div class="c" style="left:581px;top:130.66px;width:23px;height:19.58px;background:#4673c3"></div>
<div class="c" style="left:604px;top:130.66px;width:23px;height:19.58px;background:#4673c3"></div>
<div class="c" style="left:627px;top:130.66px;width:23px;height:19.58px;background:#4673c3"></div>
<div class="c" style="left:650px;top:130.66px;width:24px;height:19.58px;background:#4673c3"></div>
<div class="c" style="left:674px;top:130.66px;width:23px;height:19.58px;background:#4673c3"></div>
<div class="c" style="left:697px;top:130.66px;width:23px;height:19.58px;background:#4673c3"></div>
<div class="c" style="left:720px;top:130.66px;width:24px;height:19.58px;background:#4673c3"></div>
<div class="c" style="left:744px;top:130.66px;width:22px;height:19.58px;background:#4673c3"></div>
<div class="c" style="left:766px;top:130.66px;width:37px;height:19.58px;background:#4673c3"></div>
<div class="c" style="left:803px;top:130.66px;width:41px;height:19.58px;background:#4673c3"></div>
<div class="c" style="left:844px;top:130.66px;width:42px;height:19.58px;background:#4673c3"></div>
<div class="c" style="left:886px;top:130.66px;width:41px;height:19.58px;background:#4673c3"></div>
<div class="c" style="left:927px;top:130.66px;width:41px;height:19.58px;background:#4673c3"></div>
<div class="c" style="left:558px;top:150.24px;width:23px;height:19.58px;background:#4b77c1"></div>
<div class="c" style="left:581px;top:150.24px;width:23px;height:19.58px;background:#4b77c1"></div>
<div class="c" style="left:604px;top:150.24px;width:23px;height:19.58px;background:#4b77c1"></div>
<div class="c" style="left:627px;top:150.24px;width:23px;height:19.58px;background:#4b77c1"></div>
<div class="c" style="left:650px;top:150.24px;width:24px;height:19.58px;background:#4b77c1"></div>
<div class="c" style="left:674px;top:150.24px;width:23px;height:19.58px;background:#4b77c1"></div>
<div class="c" style="left:697px;top:150.24px;width:23px;height:19.58px;background:#4b77c1"></div>
<div class="c" style="left:720px;top:150.24px;width:24px;height:19.58px;background:#4b77c1"></div>
<div class="c" style="left:744px;top:150.24px;width:22px;height:19.58px;background:#4f79c0"></div>
<div class="c" style="left:766px;top:150.24px;width:37px;height:19.58px;background:#4f79c0"></div>
<div class="c" style="left:803px;top:150.24px;width:41px;height:19.58px;background:#4f79c0"></div>
<div class="c" style="left:844px;top:150.24px;width:42px;height:19.58px;background:#4f79c0"></div>
<div class="c" style="left:886px;top:150.24px;width:41px;height:19.58px;background:#4f79c0"></div>
<div class="c" style="left:927px;top:150.24px;width:41px;height:19.58px;background:#4f79c0"></div>
<div class="c" style="left:558px;top:169.82px;width:23px;height:19.58px;background:#4b77c1"></div>
<div class="c" style="left:581px;top:169.82px;width:23px;height:19.58px;background:#537bbf"></div>
<div class="c" style="left:604px;top:169.82px;width:23px;height:19.58px;background:#537bbf"></div>
<div class="c" style="left:627px;top:169.82px;width:23px;height:19.58px;background:#537bbf"></div>
<div class="c" style="left:650px;top:169.82px;width:24px;height:19.58px;background:#537bbf"></div>
<div class="c" style="left:674px;top:169.82px;width:23px;height:19.58px;background:#5a80bc"></div>
<div class="c" style="left:697px;top:169.82px;width:23px;height:19.58px;background:#5a80bc"></div>
<div class="c" style="left:720px;top:169.82px;width:24px;height:19.58px;background:#5e82ba"></div>
<div class="c" style="left:744px;top:169.82px;width:22px;height:19.58px;background:#6285b9"></div>
<div class="c" style="left:766px;top:169.82px;width:37px;height:19.58px;background:#6989b6"></div>
<div class="c" style="left:803px;top:169.82px;width:41px;height:19.58px;background:#6989b6"></div>
<div class="c" style="left:844px;top:169.82px;width:42px;height:19.58px;background:#6989b6"></div>
<div class="c" style="left:886px;top:169.82px;width:41px;height:19.58px;background:#5e82ba"></div>
<div class="c" style="left:927px;top:169.82px;width:41px;height:19.58px;background:#6285b9"></div>
<div class="c" style="left:558px;top:189.39px;width:23px;height:19.58px;background:#4b77c1"></div>
<div class="c" style="left:581px;top:189.39px;width:23px;height:19.58px;background:#6285b9"></div>
<div class="c" style="left:604px;top:189.39px;width:23px;height:19.58px;background:#6285b9"></div>
<div class="c" style="left:627px;top:189.39px;width:23px;height:19.58px;background:#6285b9"></div>
<div class="c" style="left:650px;top:189.39px;width:24px;height:19.58px;background:#6687b8"></div>
<div class="c" style="left:674px;top:189.39px;width:23px;height:19.58px;background:#6d8cb5"></div>
<div class="c" style="left:697px;top:189.39px;width:23px;height:19.58px;background:#718eb4"></div>
<div class="c" style="left:720px;top:189.39px;width:24px;height:19.58px;background:#8499ad"></div>
<div class="c" style="left:744px;top:189.39px;width:22px;height:19.58px;background:#8fa0a9"></div>
<div class="c" style="left:766px;top:189.39px;width:37px;height:19.58px;background:#a2aca2"></div>
<div class="c" style="left:803px;top:189.39px;width:41px;height:19.58px;background:#96a5a6"></div>
<div class="c" style="left:844px;top:189.39px;width:42px;height:19.58px;background:#96a5a6"></div>
<div class="c" style="left:886px;top:189.39px;width:41px;height:19.58px;background:#879cac"></div>
<div class="c" style="left:927px;top:189.39px;width:41px;height:19.58px;background:#7c95b0"></div>
<div class="c" style="left:558px;top:208.97px;width:23px;height:19.58px;background:#4f79c0"></div>
<div class="c" style="left:581px;top:208.97px;width:23px;height:19.58px;background:#7c95b0"></div>
<div class="c" style="left:604px;top:208.97px;width:23px;height:19.58px;background:#7892b1"></div>
<div class="c" style="left:627px;top:208.97px;width:23px;height:19.58px;background:#7892b1"></div>
<div class="c" style="left:650px;top:208.97px;width:24px;height:19.58px;background:#7c95b0"></div>
<div class="c" style="left:674px;top:208.97px;width:23px;height:19.58px;background:#8499ad"></div>
<div class="c" style="left:697px;top:208.97px;width:23px;height:19.58px;background:#8b9eaa"></div>
<div class="c" style="left:720px;top:208.97px;width:24px;height:19.58px;background:#879cac"></div>
<div class="c" style="left:744px;top:208.97px;width:22px;height:19.58px;background:#bfbf97"></div>
<div class="c" style="left:766px;top:208.97px;width:37px;height:19.58px;background:#d2ca90"></div>
<div class="c" style="left:803px;top:208.97px;width:41px;height:19.58px;background:#ecda87"></div>
<div class="c" style="left:844px;top:208.97px;width:42px;height:19.58px;background:#cbc693"></div>
<div class="c" style="left:886px;top:208.97px;width:41px;height:19.58px;background:#b4b89b"></div>
<div class="c" style="left:927px;top:208.97px;width:41px;height:19.58px;background:#a2aca2"></div>
<div class="c" style="left:558px;top:228.55px;width:23px;height:19.58px;background:#4f79c0"></div>
<div class="c" style="left:581px;top:228.55px;width:23px;height:19.58px;background:#8fa0a9"></div>
<div class="c" style="left:604px;top:228.55px;width:23px;height:19.58px;background:#8b9eaa"></div>
<div class="c" style="left:627px;top:228.55px;width:23px;height:19.58px;background:#8b9eaa"></div>
<div class="c" style="left:650px;top:228.55px;width:24px;height:19.58px;background:#96a5a6"></div>
<div class="c" style="left:674px;top:228.55px;width:23px;height:19.58px;background:#a2aca2"></div>
<div class="c" style="left:697px;top:228.55px;width:23px;height:19.58px;background:#a9b19f"></div>
<div class="c" style="left:720px;top:228.55px;width:24px;height:19.58px;background:#d2ca90"></div>
<div class="c" style="left:744px;top:228.55px;width:22px;height:19.58px;background:#ffe680"></div>
<div class="c" style="left:766px;top:228.55px;width:37px;height:19.58px;background:#ffd878"></div>
<div class="c" style="left:803px;top:228.55px;width:41px;height:19.58px;background:#ffd476"></div>
<div class="c" style="left:844px;top:228.55px;width:42px;height:19.58px;background:#ffd878"></div>
<div class="c" style="left:886px;top:228.55px;width:41px;height:19.58px;background:#ffe680"></div>
<div class="c" style="left:927px;top:228.55px;width:41px;height:19.58px;background:#dacf8e"></div>
<div class="c" style="left:558px;top:248.13px;width:23px;height:19.58px;background:#537bbf"></div>
<div class="c" style="left:581px;top:248.13px;width:23px;height:19.58px;background:#a5aea1"></div>
<div class="c" style="left:604px;top:248.13px;width:23px;height:19.58px;background:#adb39e"></div>
<div class="c" style="left:627px;top:248.13px;width:23px;height:19.58px;background:#a5aea1"></div>
<div class="c" style="left:650px;top:248.13px;width:24px;height:19.58px;background:#a9b19f"></div>
<div class="c" style="left:674px;top:248.13px;width:23px;height:19.58px;background:#bfbf97"></div>
<div class="c" style="left:697px;top:248.13px;width:23px;height:19.58px;background:#dacf8e"></div>
<div class="c" style="left:720px;top:248.13px;width:24px;height:19.58px;background:#ffe680"></div>
<div class="c" style="left:744px;top:248.13px;width:22px;height:19.58px;background:#ffd476"></div>
<div class="c" style="left:766px;top:248.13px;width:37px;height:19.58px;background:#ffca71"></div>
<div class="c" style="left:803px;top:248.13px;width:41px;height:19.58px;background:#ffc16c"></div>
<div class="c" style="left:844px;top:248.13px;width:42px;height:19.58px;background:#ffca71"></div>
<div class="c" style="left:886px;top:248.13px;width:41px;height:19.58px;background:#ffd476"></div>
<div class="c" style="left:927px;top:248.13px;width:41px;height:19.58px;background:#ffe680"></div>
<div class="c" style="left:558px;top:267.71px;width:23px;height:19.58px;background:#577ebd"></div>
<div class="c" style="left:581px;top:267.71px;width:23px;height:19.58px;background:#a9b19f"></div>
<div class="c" style="left:604px;top:267.71px;width:23px;height:19.58px;background:#bfbf97"></div>
<div class="c" style="left:627px;top:267.71px;width:23px;height:19.58px;background:#b4b89b"></div>
<div class="c" style="left:650px;top:267.71px;width:24px;height:19.58px;background:#dacf8e"></div>
<div class="c" style="left:674px;top:267.71px;width:23px;height:19.58px;background:#e1d38b"></div>
<div class="c" style="left:697px;top:267.71px;width:23px;height:19.58px;background:#ffe680"></div>
<div class="c" style="left:720px;top:267.71px;width:24px;height:19.58px;background:#ffcf73"></div>
<div class="c" style="left:744px;top:267.71px;width:22px;height:19.58px;background:#ffb866"></div>
<div class="c" style="left:766px;top:267.71px;width:37px;height:19.58px;background:#ffa65c"></div>
<div class="c" style="left:803px;top:267.71px;width:41px;height:19.58px;background:#ff9352"></div>
<div class="c" style="left:844px;top:267.71px;width:42px;height:19.58px;background:#ff9c57"></div>
<div class="c" style="left:886px;top:267.71px;width:41px;height:19.58px;background:#ffb866"></div>
<div class="c" style="left:927px;top:267.71px;width:41px;height:19.58px;background:#ffca71"></div>
<div class="c" style="left:558px;top:287.29px;width:23px;height:19.58px;background:#5a80bc"></div>
<div class="c" style="left:581px;top:287.29px;width:23px;height:19.58px;background:#d2ca90"></div>
<div class="c" style="left:604px;top:287.29px;width:23px;height:19.58px;background:#ecda87"></div>
<div class="c" style="left:627px;top:287.29px;width:23px;height:19.58px;background:#f8e183"></div>
<div class="c" style="left:650px;top:287.29px;width:24px;height:19.58px;background:#ffe680"></div>
<div class="c" style="left:674px;top:287.29px;width:23px;height:19.58px;background:#ffe680"></div>
<div class="c" style="left:697px;top:287.29px;width:23px;height:19.58px;background:#ffdd7b"></div>
<div class="c" style="left:720px;top:287.29px;width:24px;height:19.58px;background:#ffb866"></div>
<div class="c" style="left:744px;top:287.29px;width:22px;height:19.58px;background:#ffa65c"></div>
<div class="c" style="left:766px;top:287.29px;width:37px;height:19.58px;background:#ff8a4d"></div>
<div class="c" style="left:803px;top:287.29px;width:41px;height:19.58px;background:#ff7843"></div>
<div class="c" style="left:844px;top:287.29px;width:42px;height:19.58px;background:#ff8148"></div>
<div class="c" style="left:886px;top:287.29px;width:41px;height:19.58px;background:#ffa65c"></div>
<div class="c" style="left:927px;top:287.29px;width:41px;height:19.58px;background:#ffc16c"></div>
<div class="c" style="left:558px;top:306.87px;width:23px;height:19.58px;background:#5e82ba"></div>
<div class="c" style="left:581px;top:306.87px;width:23px;height:19.58px;background:#ffdd7b"></div>
<div class="c" style="left:604px;top:306.87px;width:23px;height:19.58px;background:#ffd476"></div>
<div class="c" style="left:627px;top:306.87px;width:23px;height:19.58px;background:#ffd476"></div>
<div class="c" style="left:650px;top:306.87px;width:24px;height:19.58px;background:#ffcf73"></div>
<div class="c" style="left:674px;top:306.87px;width:23px;height:19.58px;background:#ffca71"></div>
<div class="c" style="left:697px;top:306.87px;width:23px;height:19.58px;background:#ffc66e"></div>
<div class="c" style="left:720px;top:306.87px;width:24px;height:19.58px;background:#ffa15a"></div>
<div class="c" style="left:744px;top:306.87px;width:22px;height:19.58px;background:#ff8148"></div>
<div class="c" style="left:766px;top:306.87px;width:37px;height:19.58px;background:#ff5c33"></div>
<div class="c" style="left:803px;top:306.87px;width:41px;height:19.58px;background:#ff4e2c"></div>
<div class="c" style="left:844px;top:306.87px;width:42px;height:19.58px;background:#ff5c33"></div>
<div class="c" style="left:886px;top:306.87px;width:41px;height:19.58px;background:#ff8a4d"></div>
<div class="c" style="left:927px;top:306.87px;width:41px;height:19.58px;background:#ffaf61"></div>
<div class="c" style="left:558px;top:326.45px;width:23px;height:19.58px;background:#7892b1"></div>
<div class="c" style="left:581px;top:326.45px;width:23px;height:19.58px;background:#ffcf73"></div>
<div class="c" style="left:604px;top:326.45px;width:23px;height:19.58px;background:#ffb866"></div>
<div class="c" style="left:627px;top:326.45px;width:23px;height:19.58px;background:#ffc16c"></div>
<div class="c" style="left:650px;top:326.45px;width:24px;height:19.58px;background:#ffb866"></div>
<div class="c" style="left:674px;top:326.45px;width:23px;height:19.58px;background:#ffb866"></div>
<div class="c" style="left:697px;top:326.45px;width:23px;height:19.58px;background:#ffaa5f"></div>
<div class="c" style="left:720px;top:326.45px;width:24px;height:19.58px;background:#ff8148"></div>
<div class="c" style="left:744px;top:326.45px;width:22px;height:19.58px;background:#ff5c33"></div>
<div class="c" style="left:766px;top:326.45px;width:37px;height:19.58px;background:#ff371f"></div>
<div class="c" style="left:803px;top:326.45px;width:41px;height:19.58px;background:#ff2e1a"></div>
<div class="c" style="left:844px;top:326.45px;width:42px;height:19.58px;background:#ff331c"></div>
<div class="c" style="left:886px;top:326.45px;width:41px;height:19.58px;background:#ff6e3d"></div>
<div class="c" style="left:927px;top:326.45px;width:41px;height:19.58px;background:#ff9c57"></div>
<div class="c" style="left:558px;top:346.03px;width:23px;height:19.58px;background:#8fa0a9"></div>
<div class="c" style="left:581px;top:346.03px;width:23px;height:19.58px;background:#ffc16c"></div>
<div class="c" style="left:604px;top:346.03px;width:23px;height:19.58px;background:#ffb866"></div>
<div class="c" style="left:627px;top:346.03px;width:23px;height:19.58px;background:#ffb866"></div>
<div class="c" style="left:650px;top:346.03px;width:24px;height:19.58px;background:#ffb866"></div>
<div class="c" style="left:674px;top:346.03px;width:23px;height:19.58px;background:#ffc16c"></div>
<div class="c" style="left:697px;top:346.03px;width:23px;height:19.58px;background:#ffa65c"></div>
<div class="c" style="left:720px;top:346.03px;width:24px;height:19.58px;background:#ff7c45"></div>
<div class="c" style="left:744px;top:346.03px;width:22px;height:19.58px;background:#ff4e2c"></div>
<div class="c" style="left:766px;top:346.03px;width:37px;height:19.58px;background:#ff2514"></div>
<div class="c" style="left:803px;top:346.03px;width:41px;height:19.58px;background:#ff0503"></div>
<div class="c" style="left:844px;top:346.03px;width:42px;height:19.58px;background:#ff120a"></div>
<div class="c" style="left:886px;top:346.03px;width:41px;height:19.58px;background:#ff532e"></div>
<div class="c" style="left:927px;top:346.03px;width:41px;height:19.58px;background:#ff7c45"></div>
<div class="c" style="left:558px;top:365.61px;width:23px;height:19.58px;background:#b4b89b"></div>
<div class="c" style="left:581px;top:365.61px;width:23px;height:19.58px;background:#ffc16c"></div>
<div class="c" style="left:604px;top:365.61px;width:23px;height:19.58px;background:#ffaf61"></div>
<div class="c" style="left:627px;top:365.61px;width:23px;height:19.58px;background:#ffaf61"></div>
<div class="c" style="left:650px;top:365.61px;width:24px;height:19.58px;background:#ffb866"></div>
<div class="c" style="left:674px;top:365.61px;width:23px;height:19.58px;background:#ffb866"></div>
<div class="c" style="left:697px;top:365.61px;width:23px;height:19.58px;background:#ffa15a"></div>
<div class="c" style="left:720px;top:365.61px;width:24px;height:19.58px;background:#ff8148"></div>
<div class="c" style="left:744px;top:365.61px;width:22px;height:19.58px;background:#ff532e"></div>
<div class="c" style="left:766px;top:365.61px;width:37px;height:19.58px;background:#ff2e1a"></div>
<div class="c" style="left:803px;top:365.61px;width:41px;height:19.58px;background:#ff120a"></div>
<div class="c" style="left:844px;top:365.61px;width:42px;height:19.58px;background:#ff170d"></div>
<div class="c" style="left:886px;top:365.61px;width:41px;height:19.58px;background:#ff532e"></div>
<div class="c" style="left:927px;top:365.61px;width:41px;height:19.58px;background:#ff8148"></div>
<div class="c" style="left:558px;top:385.18px;width:23px;height:19.58px;background:#adb39e"></div>
<div class="c" style="left:581px;top:385.18px;width:23px;height:19.58px;background:#ffc16c"></div>
<div class="c" style="left:604px;top:385.18px;width:23px;height:19.58px;background:#ffb866"></div>
<div class="c" style="left:627px;top:385.18px;width:23px;height:19.58px;background:#ffc16c"></div>
<div class="c" style="left:650px;top:385.18px;width:24px;height:19.58px;background:#ffc16c"></div>
<div class="c" style="left:674px;top:385.18px;width:23px;height:19.58px;background:#ffc16c"></div>
<div class="c" style="left:697px;top:385.18px;width:23px;height:19.58px;background:#ffb364"></div>
<div class="c" style="left:720px;top:385.18px;width:24px;height:19.58px;background:#ff9352"></div>
<div class="c" style="left:744px;top:385.18px;width:22px;height:19.58px;background:#ff6e3d"></div>
<div class="c" style="left:766px;top:385.18px;width:37px;height:19.58px;background:#ff4a29"></div>
<div class="c" style="left:803px;top:385.18px;width:41px;height:19.58px;background:#ff371f"></div>
<div class="c" style="left:844px;top:385.18px;width:42px;height:19.58px;background:#ff4024"></div>
<div class="c" style="left:886px;top:385.18px;width:41px;height:19.58px;background:#ff8148"></div>
<div class="c" style="left:927px;top:385.18px;width:41px;height:19.58px;background:#ffa65c"></div>
<div class="c" style="left:558px;top:404.76px;width:23px;height:19.58px;background:#a2aca2"></div>
<div class="c" style="left:581px;top:404.76px;width:23px;height:19.58px;background:#ffc16c"></div>
<div class="c" style="left:604px;top:404.76px;width:23px;height:19.58px;background:#ffb866"></div>
<div class="c" style="left:627px;top:404.76px;width:23px;height:19.58px;background:#ffb866"></div>
<div class="c" style="left:650px;top:404.76px;width:24px;height:19.58px;background:#ffc16c"></div>
<div class="c" style="left:674px;top:404.76px;width:23px;height:19.58px;background:#ffc16c"></div>
<div class="c" style="left:697px;top:404.76px;width:23px;height:19.58px;background:#ffb866"></div>
<div class="c" style="left:720px;top:404.76px;width:24px;height:19.58px;background:#ffaf61"></div>
<div class="c" style="left:744px;top:404.76px;width:22px;height:19.58px;background:#ff9854"></div>
<div class="c" style="left:766px;top:404.76px;width:37px;height:19.58px;background:#ff7843"></div>
<div class="c" style="left:803px;top:404.76px;width:41px;height:19.58px;background:#ff6538"></div>
<div class="c" style="left:844px;top:404.76px;width:42px;height:19.58px;background:#ff7340"></div>
<div class="c" style="left:886px;top:404.76px;width:41px;height:19.58px;background:#ffaf61"></div>
<div class="c" style="left:927px;top:404.76px;width:41px;height:19.58px;background:#ffc16c"></div>
<div class="c" style="left:558px;top:424.34px;width:23px;height:19.58px;background:#8fa0a9"></div>
<div class="c" style="left:581px;top:424.34px;width:23px;height:19.58px;background:#ffd476"></div>
<div class="c" style="left:604px;top:424.34px;width:23px;height:19.58px;background:#ffd476"></div>
<div class="c" style="left:627px;top:424.34px;width:23px;height:19.58px;background:#ffd476"></div>
<div class="c" style="left:650px;top:424.34px;width:24px;height:19.58px;background:#ffd476"></div>
<div class="c" style="left:674px;top:424.34px;width:23px;height:19.58px;background:#ffcf73"></div>
<div class="c" style="left:697px;top:424.34px;width:23px;height:19.58px;background:#ffcf73"></div>
<div class="c" style="left:720px;top:424.34px;width:24px;height:19.58px;background:#ffca71"></div>
<div class="c" style="left:744px;top:424.34px;width:22px;height:19.58px;background:#ffc16c"></div>
<div class="c" style="left:766px;top:424.34px;width:37px;height:19.58px;background:#ffb866"></div>
<div class="c" style="left:803px;top:424.34px;width:41px;height:19.58px;background:#ffb866"></div>
<div class="c" style="left:844px;top:424.34px;width:42px;height:19.58px;background:#ffc16c"></div>
<div class="c" style="left:886px;top:424.34px;width:41px;height:19.58px;background:#ffcf73"></div>
<div class="c" style="left:927px;top:424.34px;width:41px;height:19.58px;background:#ffe680"></div>
<div class="c" style="left:558px;top:443.92px;width:23px;height:19.58px;background:#879cac"></div>
<div class="c" style="left:581px;top:443.92px;width:23px;height:19.58px;background:#ffdd7b"></div>
<div class="c" style="left:604px;top:443.92px;width:23px;height:19.58px;background:#ffdd7b"></div>
<div class="c" style="left:627px;top:443.92px;width:23px;height:19.58px;background:#ffdd7b"></div>
<div class="c" style="left:650px;top:443.92px;width:24px;height:19.58px;background:#ffdd7b"></div>
<div class="c" style="left:674px;top:443.92px;width:23px;height:19.58px;background:#ffdd7b"></div>
<div class="c" style="left:697px;top:443.92px;width:23px;height:19.58px;background:#ffdd7b"></div>
<div class="c" style="left:720px;top:443.92px;width:24px;height:19.58px;background:#ffd878"></div>
<div class="c" style="left:744px;top:443.92px;width:22px;height:19.58px;background:#ffd878"></div>
<div class="c" style="left:766px;top:443.92px;width:37px;height:19.58px;background:#ffd476"></div>
<div class="c" style="left:803px;top:443.92px;width:41px;height:19.58px;background:#ffd476"></div>
<div class="c" style="left:844px;top:443.92px;width:42px;height:19.58px;background:#ffd878"></div>
<div class="c" style="left:886px;top:443.92px;width:41px;height:19.58px;background:#ffe680"></div>
<div class="c" style="left:927px;top:443.92px;width:41px;height:19.58px;background:#d2ca90"></div>
<div class="gv" style="left:580.5px;top:91.5px;height:372.0px"></div>
<div class="gv" style="left:603.5px;top:91.5px;height:372.0px"></div>
<div class="gv" style="left:626.5px;top:91.5px;height:372.0px"></div>
<div class="gv" style="left:649.5px;top:91.5px;height:372.0px"></div>
<div class="gv" style="left:673.5px;top:91.5px;height:372.0px"></div>
<div class="gv" style="left:696.5px;top:91.5px;height:372.0px"></div>
<div class="gv" style="left:719.5px;top:91.5px;height:372.0px"></div>
<div class="gv" style="left:743.5px;top:91.5px;height:372.0px"></div>
<div class="gv" style="left:765.5px;top:91.5px;height:372.0px"></div>
<div class="gv" style="left:802.5px;top:91.5px;height:372.0px"></div>
<div class="gv" style="left:843.5px;top:91.5px;height:372.0px"></div>
<div class="gv" style="left:885.5px;top:91.5px;height:372.0px"></div>
<div class="gv" style="left:926.5px;top:91.5px;height:372.0px"></div>
<div class="gh" style="left:558px;top:110.58px;width:410px"></div>
<div class="gh" style="left:558px;top:130.16px;width:410px"></div>
<div class="gh" style="left:558px;top:149.74px;width:410px"></div>
<div class="gh" style="left:558px;top:169.32px;width:410px"></div>
<div class="gh" style="left:558px;top:188.89px;width:410px"></div>
<div class="gh" style="left:558px;top:208.47px;width:410px"></div>
<div class="gh" style="left:558px;top:228.05px;width:410px"></div>
<div class="gh" style="left:558px;top:247.63px;width:410px"></div>
<div class="gh" style="left:558px;top:267.21px;width:410px"></div>
<div class="gh" style="left:558px;top:286.79px;width:410px"></div>
<div class="gh" style="left:558px;top:306.37px;width:410px"></div>
<div class="gh" style="left:558px;top:325.95px;width:410px"></div>
<div class="gh" style="left:558px;top:345.53px;width:410px"></div>
<div class="gh" style="left:558px;top:365.11px;width:410px"></div>
<div class="gh" style="left:558px;top:384.68px;width:410px"></div>
<div class="gh" style="left:558px;top:404.26px;width:410px"></div>
<div class="gh" style="left:558px;top:423.84px;width:410px"></div>
<div class="gh" style="left:558px;top:443.42px;width:410px"></div>
<div class="num" style="left:549.5px">1</div>
<div class="num" style="left:572.5px">2</div>
<div class="num" style="left:595.5px">3</div>
<div class="num" style="left:618.5px">4</div>
<div class="num" style="left:642.0px">5</div>
<div class="num" style="left:665.5px">6</div>
<div class="num" style="left:688.5px">7</div>
<div class="num" style="left:712.0px">8</div>
<div class="num" style="left:735.0px">9</div>
<div class="num" style="left:764.5px">10</div>
<div class="num" style="left:803.5px">11</div>
<div class="num" style="left:845.0px">12</div>
<div class="num" style="left:886.5px">13</div>
<div class="num" style="left:927.5px">14</div>
<div class="lc" style="left:123px;width:23px;background:#4472c4"></div>
<div class="lc" style="left:146px;width:23px;background:#517abf"></div>
<div class="lc" style="left:169px;width:23px;background:#5f83ba"></div>
<div class="lc" style="left:192px;width:23px;background:#6c8bb5"></div>
<div class="lc" style="left:215px;width:23px;background:#7993b1"></div>
<div class="lc" style="left:238px;width:23px;background:#879bac"></div>
<div class="lc" style="left:261px;width:24px;background:#94a4a7"></div>
<div class="lc" style="left:285px;width:23px;background:#a2aca2"></div>
<div class="lc" style="left:308px;width:24px;background:#afb49d"></div>
<div class="lc" style="left:332px;width:30px;background:#bcbd98"></div>
<div class="lc" style="left:362px;width:40px;background:#cac593"></div>
<div class="lc" style="left:402px;width:42px;background:#d7cd8f"></div>
<div class="lc" style="left:444px;width:42px;background:#e4d58a"></div>
<div class="lc" style="left:486px;width:42px;background:#f2de85"></div>
<div class="lc" style="left:528px;width:30px;background:#ffe680"></div>
<div class="lc" style="left:558px;width:24px;background:#ffd677"></div>
<div class="lc" style="left:582px;width:23px;background:#ffc56e"></div>
<div class="lc" style="left:605px;width:23px;background:#ffb565"></div>
<div class="lc" style="left:628px;width:23px;background:#ffa45b"></div>
<div class="lc" style="left:651px;width:23px;background:#ff9452"></div>
<div class="lc" style="left:674px;width:23px;background:#ff8349"></div>
<div class="lc" style="left:697px;width:24px;background:#ff7340"></div>
<div class="lc" style="left:721px;width:23px;background:#ff6337"></div>
<div class="lc" style="left:744px;width:23px;background:#ff522e"></div>
<div class="lc" style="left:767px;width:36px;background:#ff4225"></div>
<div class="lc" style="left:803px;width:41px;background:#ff311b"></div>
<div class="lc" style="left:844px;width:42px;background:#ff2112"></div>
<div class="lc" style="left:886px;width:41px;background:#ff1009"></div>
<div class="lc" style="left:927px;width:41px;background:#ff0000"></div>
<div class="lg" style="left:145.5px"></div>
<div class="lg" style="left:168.5px"></div>
<div class="lg" style="left:191.5px"></div>
<div class="lg" style="left:214.5px"></div>
<div class="lg" style="left:237.5px"></div>
<div class="lg" style="left:260.5px"></div>
<div class="lg" style="left:284.5px"></div>
<div class="lg" style="left:307.5px"></div>
<div class="lg" style="left:331.5px"></div>
<div class="lg" style="left:361.5px"></div>
<div class="lg" style="left:401.5px"></div>
<div class="lg" style="left:443.5px"></div>
<div class="lg" style="left:485.5px"></div>
<div class="lg" style="left:527.5px"></div>
<div class="lg" style="left:557.5px"></div>
<div class="lg" style="left:581.5px"></div>
<div class="lg" style="left:604.5px"></div>
<div class="lg" style="left:627.5px"></div>
<div class="lg" style="left:650.5px"></div>
<div class="lg" style="left:673.5px"></div>
<div class="lg" style="left:696.5px"></div>
<div class="lg" style="left:720.5px"></div>
<div class="lg" style="left:743.5px"></div>
<div class="lg" style="left:766.5px"></div>
<div class="lg" style="left:802.5px"></div>
<div class="lg" style="left:843.5px"></div>
<div class="lg" style="left:885.5px"></div>
<div class="lg" style="left:926.5px"></div>
<div class="lt" style="left:127.5px">Menor ocorrência</div>
<div class="lt" style="left:858.5px">Maior ocorrência</div>
<div id="foot">Observatorio Covid–19 I Fiocruz</div>
</body></html>
